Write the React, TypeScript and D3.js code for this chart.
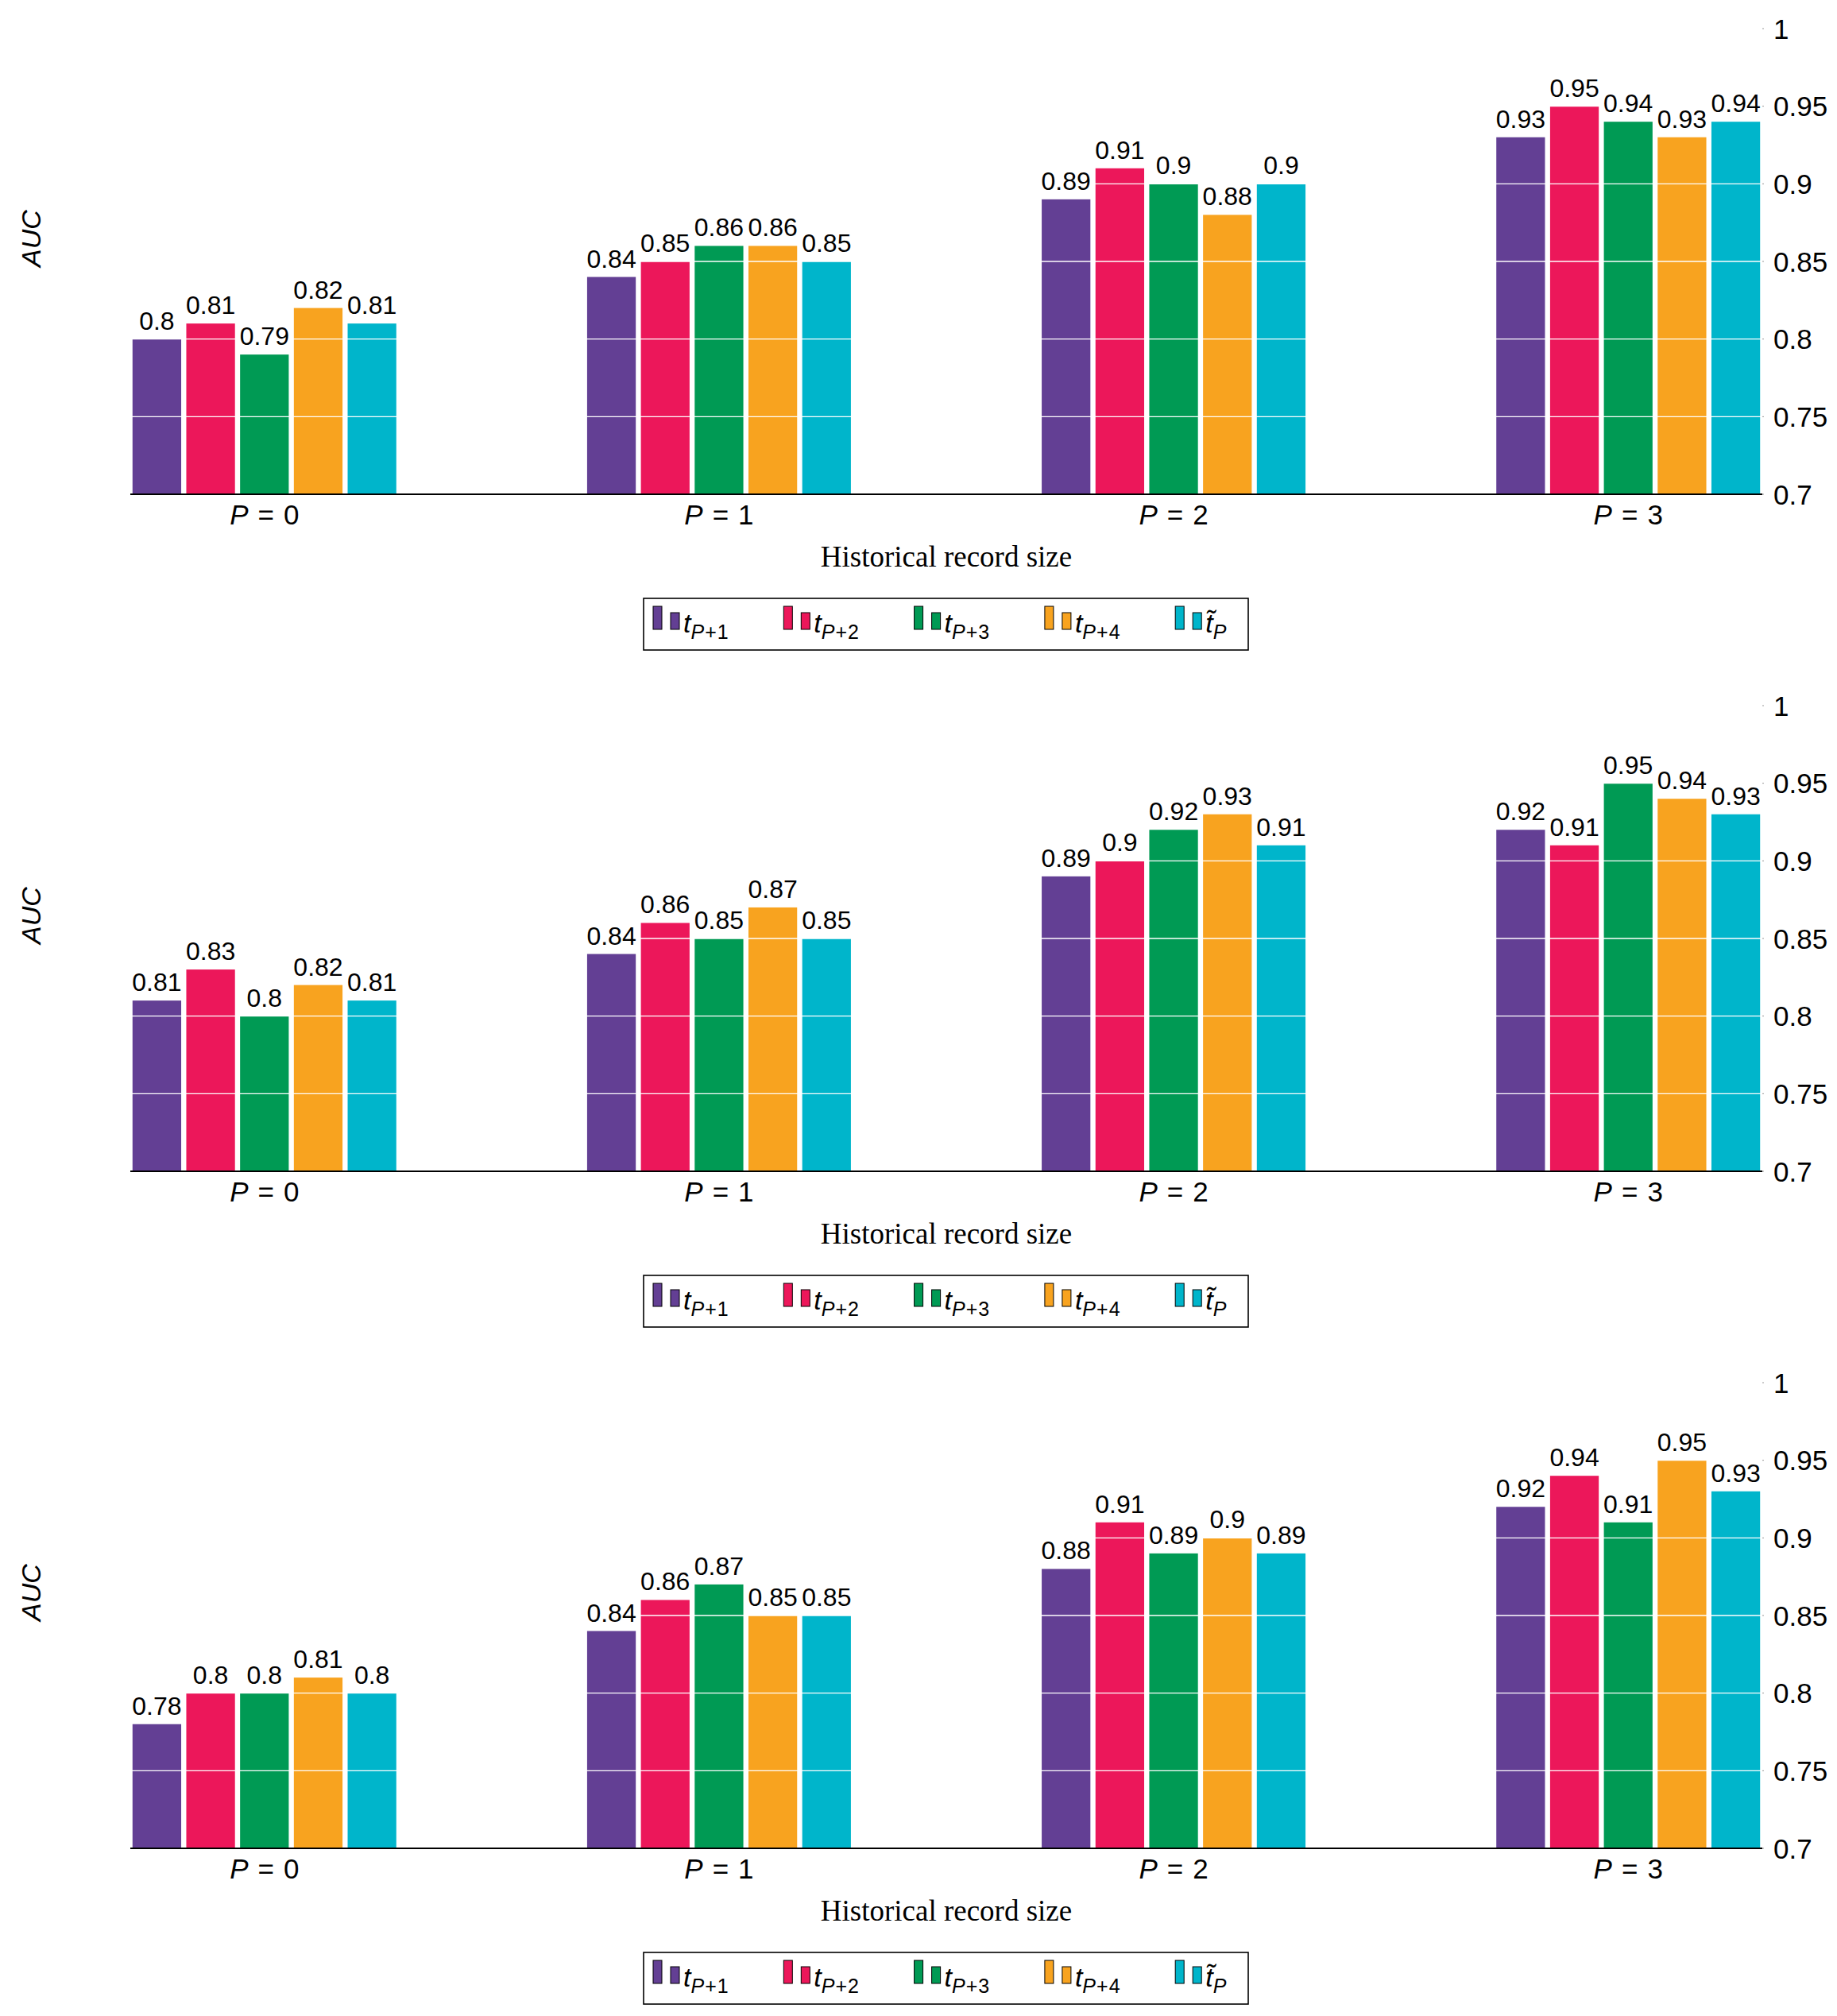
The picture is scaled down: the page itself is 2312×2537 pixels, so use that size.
import React from "react";
import * as d3 from "d3";

// ---------- Data ----------
const categories = ["0", "1", "2", "3"];
const seriesKeys = ["tP1", "tP2", "tP3", "tP4", "tTilde"];
const seriesSubs = ["P+1", "P+2", "P+3", "P+4", "P"];
const seriesColors = ["#633f94", "#ec175a", "#009a54", "#f8a31f", "#00b5cb"];
const yTicks = [0.7, 0.75, 0.8, 0.85, 0.9, 0.95, 1];

// rows = series (tP+1 .. tP~), columns = P = 0..3
const panel1 = [
  [0.8, 0.84, 0.89, 0.93],
  [0.81, 0.85, 0.91, 0.95],
  [0.79, 0.86, 0.9, 0.94],
  [0.82, 0.86, 0.88, 0.93],
  [0.81, 0.85, 0.9, 0.94],
];
const panel2 = [
  [0.81, 0.84, 0.89, 0.92],
  [0.83, 0.86, 0.9, 0.91],
  [0.8, 0.85, 0.92, 0.95],
  [0.82, 0.87, 0.93, 0.94],
  [0.81, 0.85, 0.91, 0.93],
];
const panel3 = [
  [0.78, 0.84, 0.88, 0.92],
  [0.8, 0.86, 0.91, 0.94],
  [0.8, 0.87, 0.89, 0.91],
  [0.81, 0.85, 0.9, 0.95],
  [0.8, 0.85, 0.89, 0.93],
];
const panels = [panel1, panel2, panel3];

// ---------- Layout ----------
const W = 2312;
const H = 2537;
const PANEL_STEP = 852;
const plot = { left: 164, right: 2218, top: 36, bottom: 622 };
const SANS = "'Liberation Sans', Arial, sans-serif";
const SERIF = "'Liberation Serif', 'Times New Roman', serif";

const fmt = (v: number) => String(+v.toFixed(2));

const Panel: React.FC<{ values: number[][]; offsetY: number }> = ({
  values,
  offsetY,
}) => {
  const y = d3.scaleLinear().domain([0.7, 1]).range([plot.bottom, plot.top]);
  const x0 = d3
    .scalePoint<string>()
    .domain(categories)
    .range([plot.left, plot.right])
    .padding(0.295);
  const x1 = d3
    .scaleBand<string>()
    .domain(seriesKeys)
    .range([-166, 166])
    .paddingInner(0.095);
  const bw = x1.bandwidth();
  const midX = (plot.left + plot.right) / 2;

  const legendLeft = 810;
  const legendTop = 753;
  const legendStep = 164.3;

  return (
    <g transform={`translate(0,${offsetY})`}>
      {/* bars */}
      {values.map((row, si) =>
        row.map((v, ci) => (
          <rect
            key={`b${si}-${ci}`}
            x={x0(categories[ci])! + x1(seriesKeys[si])!}
            y={y(v)}
            width={bw}
            height={y(0.7) - y(v)}
            fill={seriesColors[si]}
          />
        ))
      )}
      {/* white grid over bars */}
      {yTicks
        .filter((t) => t > 0.7 && t < 1)
        .map((t) => (
          <line
            key={`g${t}`}
            x1={plot.left}
            x2={plot.right}
            y1={y(t)}
            y2={y(t)}
            stroke="#ffffff"
            strokeWidth={1.4}
          />
        ))}
      {/* value labels */}
      {values.map((row, si) =>
        row.map((v, ci) => (
          <text
            key={`l${si}-${ci}`}
            x={x0(categories[ci])! + x1(seriesKeys[si])! + bw / 2}
            y={y(v) - 12}
            textAnchor="middle"
            fontFamily={SANS}
            fontSize={32}
            fill="#000"
          >
            {fmt(v)}
          </text>
        ))
      )}
      {/* x axis line */}
      <line
        x1={plot.left}
        x2={plot.right}
        y1={plot.bottom}
        y2={plot.bottom}
        stroke="#000"
        strokeWidth={1.8}
      />
      {/* right y ticks */}
      {yTicks.map((t) => (
        <g key={`t${t}`}>
          <line
            x1={plot.right}
            x2={plot.right + 2}
            y1={y(t)}
            y2={y(t)}
            stroke="#999"
            strokeWidth={1}
          />
          <text
            x={plot.right + 14}
            y={y(t)}
            dy="0.36em"
            fontFamily={SANS}
            fontSize={35}
            fill="#000"
          >
            {fmt(t)}
          </text>
        </g>
      ))}
      {/* x tick labels */}
      {categories.map((c) => (
        <text
          key={`x${c}`}
          x={x0(c)!}
          y={plot.bottom + 38}
          textAnchor="middle"
          fontFamily={SANS}
          fontSize={35}
          fill="#000"
        >
          <tspan fontStyle="italic">P</tspan>
          <tspan dx={12}>=</tspan>
          <tspan dx={12}>{c}</tspan>
        </text>
      ))}
      {/* axis titles */}
      <text
        x={midX}
        y={plot.bottom + 91}
        textAnchor="middle"
        fontFamily={SERIF}
        fontSize={37}
        fill="#000"
      >
        Historical record size
      </text>
      <text
        transform={`translate(51,300) rotate(-90)`}
        textAnchor="middle"
        fontFamily={SANS}
        fontStyle="italic"
        fontSize={34}
        fill="#000"
      >
        AUC
      </text>
      {/* legend */}
      <g transform={`translate(${legendLeft},${legendTop})`}>
        <rect
          x={0}
          y={0}
          width={761}
          height={65}
          fill="#fff"
          stroke="#000"
          strokeWidth={1.6}
        />
        {seriesKeys.map((k, i) => {
          const ex = 12 + i * legendStep;
          return (
            <g key={`lg${k}`} transform={`translate(${ex},0)`}>
              <rect
                x={0}
                y={10}
                width={11}
                height={29}
                fill={seriesColors[i]}
                stroke="#000"
                strokeWidth={1}
              />
              <rect
                x={22}
                y={18}
                width={11}
                height={21}
                fill={seriesColors[i]}
                stroke="#000"
                strokeWidth={1}
              />
              <text
                x={38}
                y={43}
                fontFamily={SANS}
                fontSize={34}
                fill="#000"
              >
                <tspan fontStyle="italic">{k === "tTilde" ? "t\u0303" : "t"}</tspan>
                <tspan dy={8} fontSize={25}>
                  {seriesSubs[i].split("").map((ch, j) => (
                    <tspan
                      key={j}
                      fontStyle={ch === "P" ? "italic" : "normal"}
                      dx={ch === "+" || (j > 0 && seriesSubs[i][j - 1] === "+") ? 1 : 0}
                    >
                      {ch}
                    </tspan>
                  ))}
                </tspan>
              </text>
            </g>
          );
        })}
      </g>
    </g>
  );
};

const App: React.FC = () => {
  return (
    <svg
      width={W}
      height={H}
      viewBox={`0 0 ${W} ${H}`}
      style={{ position: "absolute", left: 0, top: 0, background: "#fff" }}
    >
      <rect x={0} y={0} width={W} height={H} fill="#fff" />
      {panels.map((p, i) => (
        <Panel key={i} values={p} offsetY={i * PANEL_STEP} />
      ))}
    </svg>
  );
};

export default App;
